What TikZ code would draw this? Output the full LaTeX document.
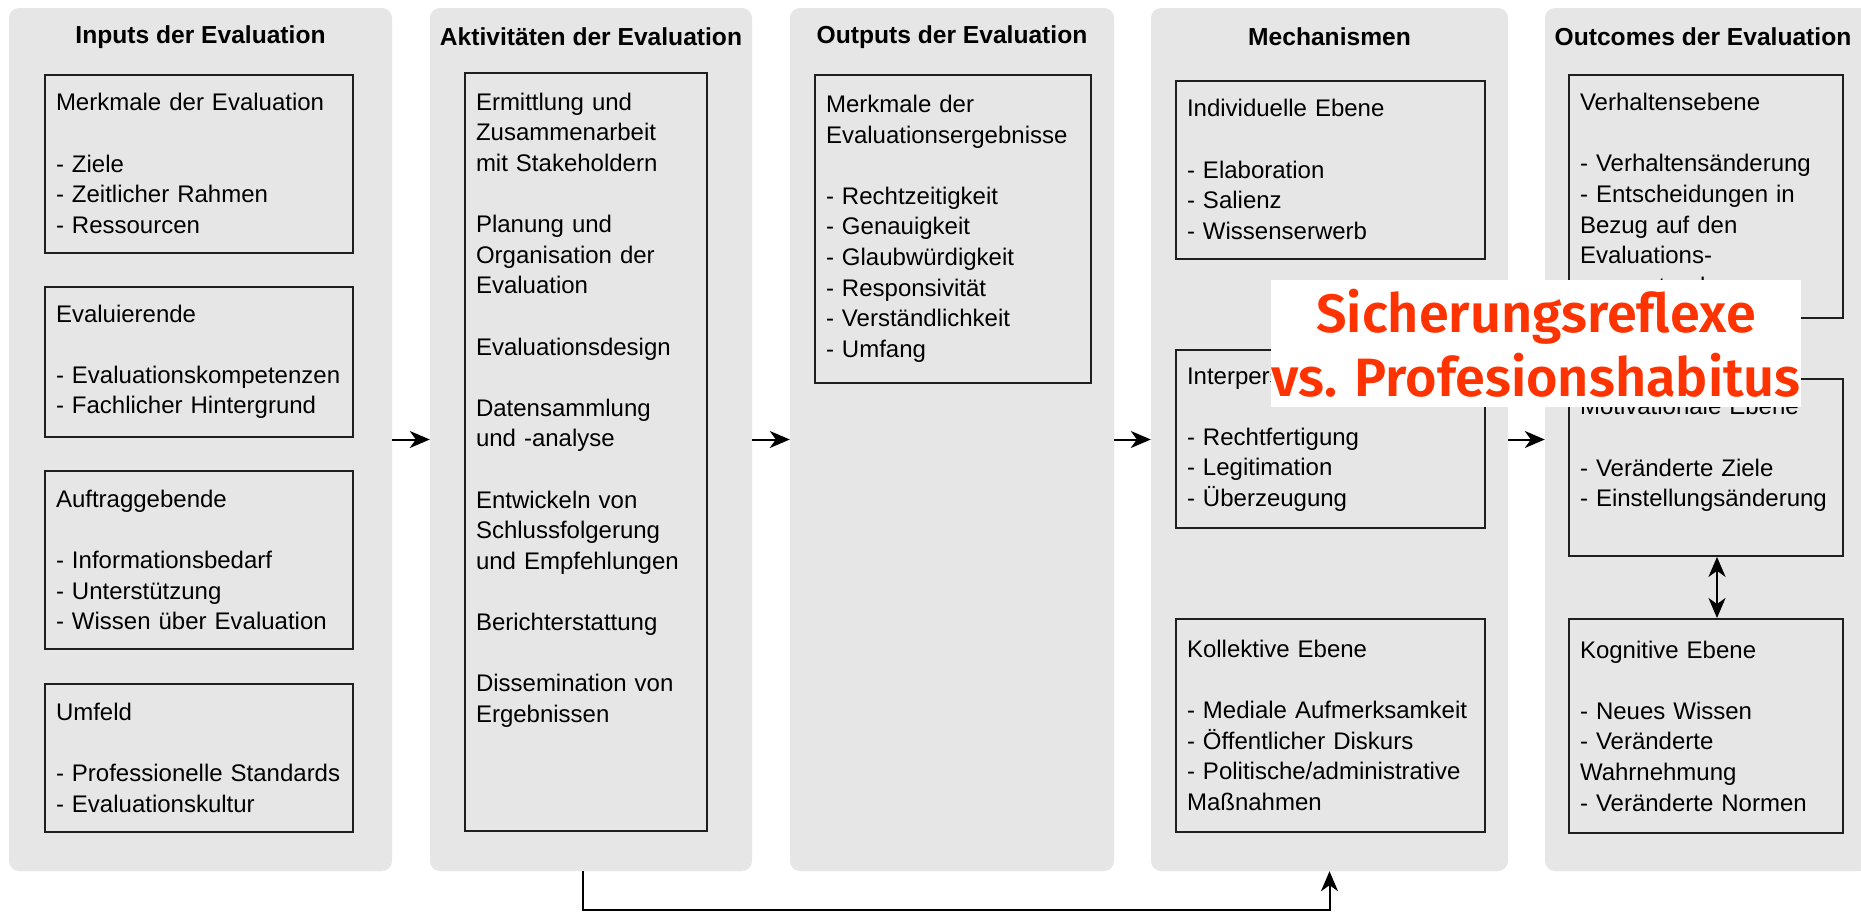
\documentclass[tikz,border=0pt]{standalone}
\usepackage{fontspec}
\setmainfont{Liberation Sans}
\newfontfamily\overlayfont{Fira Sans}[BoldFont={Fira Sans SemiBold}]
\usepackage{xcolor}
\usetikzlibrary{arrows.meta,positioning}

\definecolor{panelgray}{HTML}{E6E6E6}
\definecolor{alertred}{RGB}{255,51,0}

\begin{document}
\begin{tikzpicture}[x=1pt, y=-1pt,
    panel/.style={fill=panelgray, rounded corners=10pt, inner sep=0pt, minimum height=863pt},
    ptitle/.style={font=\fontsize{24.6}{30}\selectfont\bfseries, inner sep=0pt},
    ebox/.style={draw=black!88, line width=2pt, anchor=north west, align=left,
        inner xsep=11pt, inner ysep=6pt, font=\fontsize{24}{30.6}\selectfont},
    flow/.style={line width=2pt, -{Stealth[length=20pt, width=17pt, inset=6pt]}},
    both/.style={line width=2pt, {Stealth[length=20pt, width=17pt, inset=6pt]}-{Stealth[length=20pt, width=17pt, inset=6pt]}}]
    \fill[white] (0,0) rectangle (1861,911);
    \useasboundingbox (0,0) rectangle (1861,911);

    % Gray columns
    \node[panel, minimum width=383pt] (inputs) at (200.5, 439.5) {};
    \node[panel, minimum width=322pt] (activities) at (591, 439.5) {};
    \node[panel, minimum width=324pt] (outputs) at (952, 439.5) {};
    \node[panel, minimum width=357pt] (mech) at (1329.5, 439.5) {};
    \node[panel, minimum width=325pt] (outcomes) at (1707.5, 439.5) {};

    % Column titles
    \node[ptitle] (tinputs) at (200.5, 37) {Inputs der Evaluation};
    \node[ptitle] (tactivities) at (591, 37) {Aktivitäten der Evaluation};
    \node[ptitle] (toutputs) at (952, 37) {Outputs der Evaluation};
    \node[ptitle] (tmech) at (1329.5, 37) {Mechanismen};
    \node[ptitle] (toutcomes) at (1703, 37) {Outcomes der Evaluation};

    % Inputs
    \node[ebox, text width=286pt, minimum height=178pt] (merkmale) at (44, 73.5)
        {Merkmale der Evaluation\\ ~\\- Ziele\\- Zeitlicher Rahmen\\- Ressourcen};
    \node[ebox, text width=286pt, minimum height=149.5pt] (evaluierende) at (44, 286)
        {Evaluierende\\ ~\\- Evaluationskompetenzen\\- Fachlicher Hintergrund};
    \node[ebox, text width=286pt, minimum height=178pt] (auftrag) at (44, 470)
        {Auftraggebende\\ ~\\- Informationsbedarf\\- Unterstützung\\- Wissen über Evaluation};
    \node[ebox, text width=286pt, minimum height=148.5pt] (umfeld) at (44, 682.5)
        {Umfeld\\ ~\\- Professionelle Standards\\- Evaluationskultur};

    % Activities
    \node[ebox, text width=220pt, inner ysep=20pt, text depth=701pt] (aktliste) at (464, 72)
        {Ermittlung und\\Zusammenarbeit\\mit Stakeholdern\\ ~\\Planung und\\Organisation der\\Evaluation\\ ~\\Evaluationsdesign\\ ~\\Datensammlung\\und -analyse\\ ~\\Entwickeln von\\Schlussfolgerung\\und Empfehlungen\\ ~\\Berichterstattung\\ ~\\Dissemination von\\Ergebnissen};

    % Outputs
    \node[ebox, text width=254pt, minimum height=308.5pt] (ergebnisse) at (814, 73.5)
        {Merkmale der\\Evaluationsergebnisse\\ ~\\- Rechtzeitigkeit\\- Genauigkeit\\- Glaubwürdigkeit\\- Responsivität\\- Verständlichkeit\\- Umfang};

    % Mechanisms
    \node[ebox, text width=287pt, minimum height=178pt] (individuell) at (1175, 79.5)
        {Individuelle Ebene\\ ~\\- Elaboration\\- Salienz\\- Wissenserwerb};
    \node[ebox, text width=287pt, minimum height=178pt] (interpersonell) at (1175, 349)
        {Interpersonelle Ebene\\ ~\\- Rechtfertigung\\- Legitimation\\- Überzeugung};
    \node[ebox, text width=287pt, minimum height=213pt] (kollektiv) at (1175, 618)
        {Kollektive Ebene\\ ~\\- Mediale Aufmerksamkeit\\- Öffentlicher Diskurs\\- Politische/administrative\\Maßnahmen};

    % Outcomes
    \node[ebox, text width=252pt, minimum height=243.5pt] (verhalten) at (1568, 73.5)
        {Verhaltensebene\\ ~\\- Verhaltensänderung\\- Entscheidungen in\\Bezug auf den\\Evaluations-\\gegenstand};
    \node[ebox, text width=252pt, inner ysep=19pt, text depth=122pt] (motiv) at (1568, 377.5)
        {Motivationale Ebene\\ ~\\- Veränderte Ziele\\- Einstellungsänderung};
    \node[ebox, text width=252pt, minimum height=214pt] (kognitiv) at (1568, 618)
        {Kognitive Ebene\\ ~\\- Neues Wissen\\- Veränderte\\Wahrnehmung\\- Veränderte Normen};

    % Flow between columns
    \draw[flow] (inputs.east) -- (activities.west);
    \draw[flow] (activities.east) -- (outputs.west);
    \draw[flow] (outputs.east) -- (mech.west);
    \draw[flow] (mech.east) -- (outcomes.west);
    \draw[both] ([xshift=11pt]motiv.south) -- ([xshift=11pt]kognitiv.north);

    % Bypass from activities to mechanisms
    \draw[flow] ([xshift=-8pt]activities.south) -- ++(0,39) -| (mech.south);

    % Overlay caption
    \node[fill=white, inner sep=0pt, minimum width=530pt, minimum height=127pt, align=center,
        text=alertred, font=\overlayfont\bfseries\fontsize{54}{64}\selectfont] (warn) at (1536, 343.5)
        {Sicherungsreflexe\\vs. Profesionshabitus};
\end{tikzpicture}
\end{document}
